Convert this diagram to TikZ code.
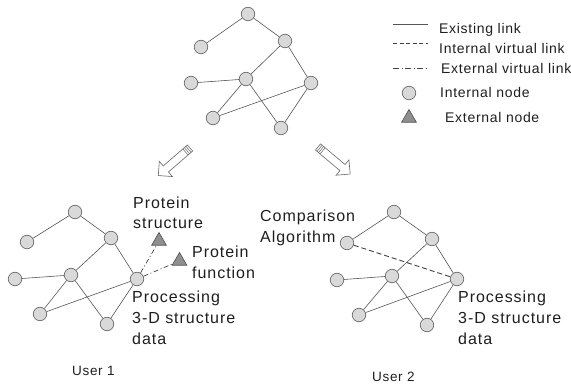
\documentclass[tikz,border=0pt]{standalone}
\usepackage{fontspec}
\setmainfont{Liberation Sans}
\newfontfamily\lblfont[LetterSpace=6]{Liberation Sans}
\newfontfamily\lgdfont[LetterSpace=5]{Liberation Sans}
\usetikzlibrary{shapes.geometric}

\definecolor{edgegray}{HTML}{555555}
\definecolor{nodefill}{HTML}{D9D9D9}
\definecolor{nodeline}{HTML}{6E6E6E}
\definecolor{trifill}{HTML}{8F8F8F}
\definecolor{txt}{HTML}{1E1E1E}

\tikzset{
  nd/.style={circle, draw=nodeline, fill=nodefill, line width=0.7pt,
             minimum size=13.5pt, inner sep=0pt},
  extnode/.style={regular polygon, regular polygon sides=3, draw=black!70,
             fill=trifill, line width=0.6pt, minimum size=17pt, inner sep=0pt},
  link/.style={draw=edgegray, line width=0.6pt},
  intvirt/.style={draw=black!75, line width=0.9pt, dash pattern=on 5pt off 3pt},
  extvirt/.style={draw=black!75, line width=0.7pt,
             dash pattern=on 5pt off 2.5pt on 1pt off 2.5pt},
  lbl/.style={font=\lblfont\fontsize{16}{16}\selectfont, anchor=base west,
             inner sep=0pt, text=txt},
  lgd/.style={font=\lgdfont\fontsize{14}{14}\selectfont, anchor=base west,
             inner sep=0pt, text=txt},
  usr/.style={font=\lgdfont\fontsize{13.5}{13.5}\selectfont, anchor=base west,
             inner sep=0pt, text=txt},
  hollow/.style={draw=black!60, fill=white, line width=0.6pt, line join=miter},
}

\begin{document}
\begin{tikzpicture}[x=1pt, y=-1pt]
\useasboundingbox (0,0) rectangle (571,387);

% ---------- shared network ----------
\node[nd] (tA) at (248,14) {};
\node[nd] (tB) at (201,47) {};
\node[nd] (tC) at (285,41) {};
\node[nd] (tD) at (246,79) {};
\node[nd] (tE) at (191,83) {};
\node[nd] (tF) at (311,83) {};
\node[nd] (tG) at (213,118) {};
\node[nd] (tH) at (281,128) {};
\draw[link] (tA) -- (tB);
\draw[link] (tA) -- (tC);
\draw[link] (tC) -- (tD);
\draw[link] (tC) -- (tF);
\draw[link] (tD) -- (tE);
\draw[link] (tD) -- (tG);
\draw[link] (tD) -- (tH);
\draw[link] (tF) -- (tG);
\draw[link] (tF) -- (tH);

% ---------- hollow arrows ----------
\begin{scope}[shift={(190,148)}, rotate=221]
  \draw[hollow] (0,-4) -- (32,-4) -- (32,-10) -- (42,0) -- (32,10) -- (32,4) -- (0,4) -- cycle;
  \foreach \u in {2,4,6} \draw[draw=black!60, line width=0.5pt] (\u,-4) -- (\u,4);
\end{scope}
\begin{scope}[shift={(318,147)}, rotate=-40]
  \draw[hollow] (0,-4) -- (32,-4) -- (32,-10) -- (42,0) -- (32,10) -- (32,4) -- (0,4) -- cycle;
  \foreach \u in {2,4,6} \draw[draw=black!60, line width=0.5pt] (\u,-4) -- (\u,4);
\end{scope}

% ---------- User 1 ----------
\node[nd] (aA) at (75,212) {};
\node[nd] (aB) at (27,242) {};
\node[nd] (aC) at (111,238) {};
\node[nd] (aD) at (71,275) {};
\node[nd] (aE) at (15,279) {};
\node[nd] (aF) at (137,279) {};
\node[nd] (aG) at (40,314) {};
\node[nd] (aH) at (107,324) {};
\draw[link] (aA) -- (aB);
\draw[link] (aA) -- (aC);
\draw[link] (aC) -- (aD);
\draw[link] (aC) -- (aF);
\draw[link] (aD) -- (aE);
\draw[link] (aD) -- (aG);
\draw[link] (aD) -- (aH);
\draw[link] (aF) -- (aG);
\draw[link] (aF) -- (aH);
\node[extnode] (pstruct) at (159,241) {};
\node[extnode] (pfunc) at (179.5,261) {};
\draw[extvirt] (aF) -- (pstruct);
\draw[extvirt] (aF) -- (pfunc);

\node[lbl] (ps1) at (133,209) {Protein};
\node[lbl] (ps2) at (133,229) {structure};
\node[lbl] (pf1) at (192,258) {Protein};
\node[lbl] (pf2) at (192,279) {function};
\node[lbl] (pr1) at (132,303) {Processing};
\node[lbl] (pr2) at (132,324) {3-D structure};
\node[lbl] (pr3) at (132,345) {data};
\node[usr] (u1) at (72,376) {User 1};

% ---------- User 2 ----------
\node[nd] (bA) at (394,212) {};
\node[nd] (bB) at (347,243) {};
\node[nd] (bC) at (432,239) {};
\node[nd] (bD) at (392,276) {};
\node[nd] (bE) at (337,280) {};
\node[nd] (bF) at (457,279) {};
\node[nd] (bG) at (359,315) {};
\node[nd] (bH) at (427,325) {};
\draw[link] (bA) -- (bB);
\draw[link] (bA) -- (bC);
\draw[link] (bC) -- (bD);
\draw[link] (bC) -- (bF);
\draw[link] (bD) -- (bE);
\draw[link] (bD) -- (bG);
\draw[link] (bD) -- (bH);
\draw[link] (bF) -- (bG);
\draw[link] (bF) -- (bH);
\draw[intvirt] (bB) -- (bF);

\node[lbl] (cmp1) at (260,222) {Comparison};
\node[lbl] (cmp2) at (260,243) {Algorithm};
\node[lbl] (qr1) at (458,303) {Processing};
\node[lbl] (qr2) at (458,324) {3-D structure};
\node[lbl] (qr3) at (458,345) {data};
\node[usr] (u2) at (372,382) {User 2};

% ---------- legend ----------
\coordinate (l1a) at (393,24);  \coordinate (l1b) at (428,24);
\coordinate (l2a) at (393,43);  \coordinate (l2b) at (428,43);
\coordinate (l3a) at (393,68);  \coordinate (l3b) at (428,68);
\draw[link] (l1a) -- (l1b);
\draw[draw=black!75, line width=0.6pt, dash pattern=on 4pt off 2.5pt] (l2a) -- (l2b);
\draw[draw=black!75, line width=0.6pt, dash pattern=on 6pt off 2.5pt on 1pt off 2.5pt] (l3a) -- (l3b);
\node[nd] (lgc) at (409,93) {};
\node[extnode] (lgt) at (409,118) {};
\node[lgd] (t1) at (439,34) {Existing link};
\node[lgd] (t2) at (439,54) {Internal virtual link};
\node[lgd] (t3) at (441,74) {External virtual link};
\node[lgd] (t4) at (440,98) {Internal node};
\node[lgd] (t5) at (445,123) {External node};
\end{tikzpicture}
\end{document}
